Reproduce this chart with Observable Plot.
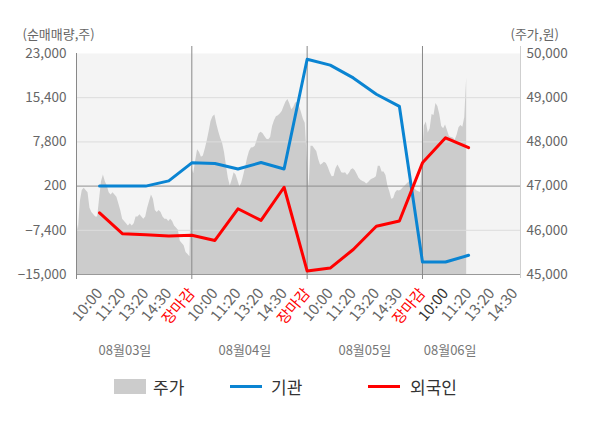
<!DOCTYPE html>
<html><head><meta charset="utf-8">
<script src="https://cdn.jsdelivr.net/npm/d3@7"></script>
<script src="https://cdn.jsdelivr.net/npm/@observablehq/plot@0.6"></script>
<style>
body{margin:0;background:#fff;font-family:'Noto Sans CJK KR','Noto Sans',sans-serif;}
#chart{width:600px;height:365px;}
#legend{position:relative;width:600px;height:63px;}
#legend .sw{position:absolute;}
#legend .tx{position:absolute;font-size:17px;line-height:20px;top:12px;color:#333;}
</style></head>
<body>
<div id="chart"></div>
<div id="legend">
  <div class="sw" style="left:114px;top:14px;width:32px;height:15px;background:#cccccc"></div>
  <div class="tx" style="left:153px">주가</div>
  <div class="sw" style="left:230px;top:20px;width:32px;height:3px;background:#0a84d2"></div>
  <div class="tx" style="left:271px">기관</div>
  <div class="sw" style="left:368px;top:20px;width:32px;height:3px;background:#ff0000"></div>
  <div class="tx" style="left:410px">외국인</div>
</div>
<script>
const timeLabels = ["10:00","11:20","13:20","14:30","장마감","10:00","11:20","13:20","14:30","장마감","10:00","11:20","13:20","14:30","장마감","10:00","11:20","13:20","14:30"];
const dateLabels = ["08월03일","08월04일","08월05일","08월06일"];
const leftTicks = [-15000,-7400,200,7800,15400,23000];
const priceTicks = [45000,46000,47000,48000,49000,50000];
// 기관 net buying (shares)
const institution = [200,200,200,1100,4200,4100,3150,4250,3150,22000,21000,18800,16000,13900,-12850,-12850,-11700];
// 외국인 net buying (shares)
const foreign = [-4400,-8000,-8150,-8400,-8250,-9150,-3700,-5700,0,-14400,-13900,-10700,-6700,-5800,4200,8500,6800];
// 주가 (won), intraday samples per day
const price0803 = [46250,46000,46650,46900,46950,46900,46850,46500,46400,46350,46300,46300,46700,47100,47250,47100,47000,46850,46800,46850,46800,46750,46600,46450,46250,46200,46150,46100,46150,46100,46150,46300,46300,46350,46300,46250,46300,46500,46650,46800,46700,46450,46400,46450,46400,46300,46250,46250,46200,46250,46200,46100,46050,46000,45750,45700,45650,45500,45450,45400];
const price0804 = [47400,47280,47570,47820,47760,47650,47680,47840,48020,48230,48460,48570,48610,48400,48230,48080,47970,47760,47460,47180,47000,47140,47300,47250,47120,46980,47070,47240,47430,47630,47780,47860,47870,47900,48040,48180,48220,48190,48120,48060,48050,48100,48350,48480,48570,48590,48630,48690,48800,48900,48960,48860,48730,48780,48880,48890,48800,48670,48520,48420];
const price0805 = [47640,46950,47900,47900,47840,47780,47600,47470,47500,47540,47510,47420,47300,47210,47220,47390,47480,47400,47300,47290,47300,47240,47290,47370,47390,47350,47270,47180,47130,47105,47085,47050,47080,47130,47160,47180,47210,47450,47450,47320,47320,47240,47000,46870,46700,46720,46850,46900,46890,46910,46960,47000,47050,47090,47100,47020,46940,46895,46875,46855];
const price0806 = [47575,48360,48450,48200,48300,48620,48600,48870,48800,48620,48350,48300,48380,48260,48120,48100,48090,48040,48150,48320,48370,48330,48550,49445];

const SLOTS_PER_DAY = 5, SAMPLES_PER_DAY = 60, X_MAX = 19.25;
const datePos = [2.1, 7.3, 12.5, 16.2];
const toLeft = p => (p - 45000) / 5000 * 38000 - 15000;
const fromLeft = v => (v + 15000) / 38000 * 5000 + 45000;
const fmt = d3.format(",");

const priceData = [price0803, price0804, price0805, price0806].flatMap((arr, d) =>
  arr.map((p, j) => ({x: d * SLOTS_PER_DAY + j * SLOTS_PER_DAY / SAMPLES_PER_DAY, y: toLeft(p)})));
const inst = institution.map((v, i) => ({x: i + 1, y: v}));
const forg = foreign.map((v, i) => ({x: i + 1, y: v}));
const xl = timeLabels.map((t, i) => ({x: i + 1, t, c: t === "장마감" ? "#ff0000" : (i === 15 ? "#333333" : "#666666")}));

const chart = Plot.plot({
  width: 600, height: 365,
  marginLeft: 76, marginRight: 80, marginTop: 53, marginBottom: 91,
  style: {fontFamily: "'Noto Sans CJK KR','Noto Sans',sans-serif", background: "#fff"},
  x: {domain: [0, X_MAX], axis: null},
  y: {domain: [-15000, 23000], axis: null},
  marks: [
    Plot.frame({fill: "#f4f4f4", stroke: "none"}),
    Plot.areaY(priceData, {x: "x", y1: -15000, y2: "y", fill: "#cccccc"}),
    Plot.ruleY([-7400, 7800, 15400], {stroke: "#dcdcdc"}),
    Plot.ruleY([200], {stroke: "#8f8f8f"}),
    Plot.ruleY([-15000], {stroke: "#999"}),
    Plot.ruleX([0], {stroke: "#888", insetBottom: -5}),
    Plot.ruleX([5, 10, 15], {stroke: "#888", insetTop: -7, insetBottom: -5}),
    Plot.ruleX([X_MAX], {stroke: "#cfcfcf", insetTop: -7, insetBottom: -4}),
    Plot.line(inst, {x: "x", y: "y", stroke: "#0a84d2", strokeWidth: 3}),
    Plot.line(forg, {x: "x", y: "y", stroke: "#ff0000", strokeWidth: 3}),
    Plot.axisY(leftTicks, {anchor: "left", tickSize: 0, tickPadding: 10, tickFormat: fmt, fontSize: 13.5, color: "#666", label: null}),
    Plot.axisY(priceTicks.map(toLeft), {anchor: "right", tickSize: 0, tickPadding: 6, tickFormat: d => fmt(Math.round(fromLeft(d))), fontSize: 13.5, color: "#666", label: null}),
    ...["#666666", "#ff0000", "#333333"].map(col =>
      Plot.text(xl.filter(d => d.c === col), {x: "x", text: "t", frameAnchor: "bottom", dy: 16, rotate: -50, textAnchor: "end", lineAnchor: "middle", fontSize: 15, fill: col})),
    Plot.text(dateLabels, {x: (d, i) => datePos[i], text: d => d, frameAnchor: "bottom", dy: 80, fontSize: 13, fill: "#777"}),
    Plot.text(["(순매매량,주)"], {frameAnchor: "top-left", text: d => d, dx: -54, dy: -19, textAnchor: "start", lineAnchor: "middle", fontSize: 13, fill: "#666"}),
    Plot.text(["(주가,원)"], {frameAnchor: "top-right", text: d => d, dx: -10, dy: -19, textAnchor: "start", lineAnchor: "middle", fontSize: 13, fill: "#666"})
  ]
});
document.getElementById("chart").appendChild(chart);
</script>
</body></html>
